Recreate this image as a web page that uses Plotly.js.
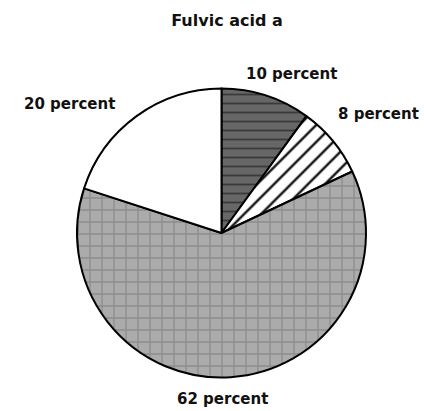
<!DOCTYPE html>
<html>
<head>
<meta charset="utf-8">
<script src="https://cdn.plot.ly/plotly-3.0.1.min.js"></script>
<style>html,body{margin:0;padding:0;background:#fff;}#chart{width:424px;height:411px;}</style>
</head>
<body>
<div id="chart"></div>
<script>
const chartTitle = "Fulvic acid a";
const categories = ["A", "B", "C", "D"];
const values = [10, 8, 62, 20];
const labelTexts = ["10 percent", "8 percent", "62 percent", "20 percent"];

const bgColors = ["#676767", "#ffffff", "#ababab", "#ffffff"];
const fgColors = ["#3a3a3a", "#111111", "#8c8c8c", "#ffffff"];
const shapes = ["-", "/", "+", ""];
const patternSizes = [9, 12, 12, 8];
const labelPos = [[291, 74], [378, 114], [222, 399], [69, 104]];

const W = 424, H = 411;
const trace = {
  type: "pie",
  labels: categories,
  values: values,
  sort: false,
  direction: "clockwise",
  rotation: 0,
  textinfo: "none",
  hoverinfo: "none",
  domain: {x: [77 / W, 366 / W], y: [1 - 378 / H, 1 - 88 / H]},
  marker: {
    colors: bgColors,
    line: {color: "#000", width: 2},
    pattern: {shape: shapes, fgcolor: fgColors, bgcolor: bgColors, size: patternSizes, solidity: 0.2}
  },
  showlegend: false
};

const annotations = labelTexts.map((t, i) => ({
  text: t, xref: "paper", yref: "paper",
  x: labelPos[i][0] / W, y: 1 - labelPos[i][1] / H,
  xanchor: "center", yanchor: "middle", showarrow: false,
  font: {family: "DejaVu Sans", size: 15, color: "#111", weight: "bold"}
}));

const layout = {
  width: W, height: H,
  margin: {l: 0, r: 0, t: 0, b: 0},
  paper_bgcolor: "#fff",
  title: {text: "<b>" + chartTitle + "</b>", x: 227 / W, xanchor: "center", y: 1 - 20 / H, yanchor: "middle",
          font: {family: "DejaVu Sans", size: 16, color: "#111"}},
  annotations: annotations
};
Plotly.newPlot("chart", [trace], layout, {staticPlot: true});
</script>
</body>
</html>
